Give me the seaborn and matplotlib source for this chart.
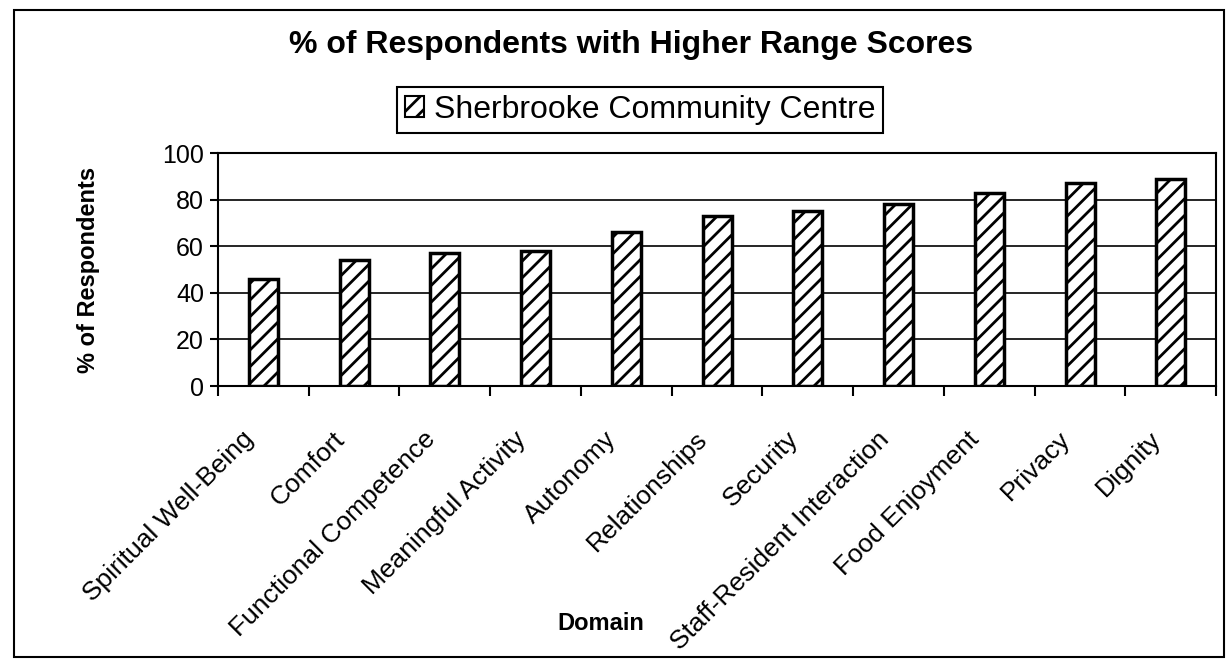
import numpy as np
import pandas as pd
import matplotlib
matplotlib.use('Agg')
import matplotlib.pyplot as plt
import matplotlib.patches as mpatches
import matplotlib.transforms as mtransforms
import seaborn as sns

domains = ['Spiritual Well-Being', 'Comfort', 'Functional Competence', 'Meaningful Activity',
           'Autonomy', 'Relationships', 'Security', 'Staff-Resident Interaction',
           'Food Enjoyment', 'Privacy', 'Dignity']
pct_higher = [46, 54, 57, 58, 66, 73, 75, 78, 83, 87, 89]
series_name = 'Sherbrooke Community Centre'
y_ticks = [0, 20, 40, 60, 80, 100]

df = pd.DataFrame({'Domain': domains, 'Pct': pct_higher})

sns.set_style('white')
plt.rcParams['font.family'] = ['Liberation Sans', 'DejaVu Sans']
plt.rcParams['text.color'] = 'black'
plt.rcParams['axes.labelcolor'] = 'black'
plt.rcParams['xtick.color'] = 'black'
plt.rcParams['ytick.color'] = 'black'
plt.rcParams['hatch.linewidth'] = 2.0
plt.rcParams['hatch.color'] = 'black'

fig = plt.figure(figsize=(12.31, 6.65), dpi=100)
ax = fig.add_axes([0.177, 0.4195, 0.811, 0.3504])

sns.barplot(data=df, x='Domain', y='Pct', color='white', edgecolor='black',
            linewidth=2.5, hatch='//', width=0.32, ax=ax, zorder=3)

ax.set_ylim(0, 100)
ax.set_xlim(-0.5, len(domains) - 0.5)
ax.set_yticks(y_ticks)
ax.yaxis.grid(True, color='black', linewidth=1.2, zorder=0)
ax.set_axisbelow(True)
for s in ax.spines.values():
    s.set_color('black')
    s.set_linewidth(1.5)
    s.set_visible(True)

ax.tick_params(axis='y', which='major', left=True, length=6, width=1.5,
               labelsize=18, pad=4, colors='black')
# category ticks sit between the bars, like the Excel original
ax.set_xticks(np.arange(len(domains) + 1) - 0.5, minor=True)
ax.tick_params(axis='x', which='minor', bottom=True, length=7, width=1.5, direction='out')
ax.tick_params(axis='x', which='major', bottom=False, labelsize=19, pad=26)
ax.set_xticklabels(domains, rotation=45, ha='right', rotation_mode='anchor')
shift = mtransforms.ScaledTranslation(-0.22, 0, fig.dpi_scale_trans)
for lbl in ax.get_xticklabels():
    lbl.set_transform(lbl.get_transform() + shift)

ax.set_xlabel('')
ax.set_ylabel('% of Respondents', fontsize=17, fontweight='bold')
ax.yaxis.set_label_coords(-0.118, 0.5)
fig.text(601 / 1231, 1 - 623 / 665, 'Domain', fontsize=17, fontweight='bold',
         ha='center', va='center')

fig.text(0.513, 0.932, '% of Respondents with Higher Range Scores', fontsize=23,
         fontweight='bold', ha='center', va='center')

handle = mpatches.Patch(facecolor='white', edgecolor='black', hatch='//', linewidth=1.5)
leg = fig.legend([handle], [series_name], loc='center', bbox_to_anchor=(0.52, 0.835),
                 fontsize=23, frameon=True, fancybox=False, framealpha=1,
                 edgecolor='black', handlelength=0.6, handleheight=0.6,
                 handletextpad=0.3, borderpad=0.25, borderaxespad=0)
leg.get_frame().set_linewidth(1.5)

border = mpatches.Rectangle((0.0114, 0.012), 0.983, 0.973, transform=fig.transFigure,
                            fill=False, edgecolor='black', linewidth=1.5)
fig.patches.append(border)

fig.savefig('out.png', dpi=100)
